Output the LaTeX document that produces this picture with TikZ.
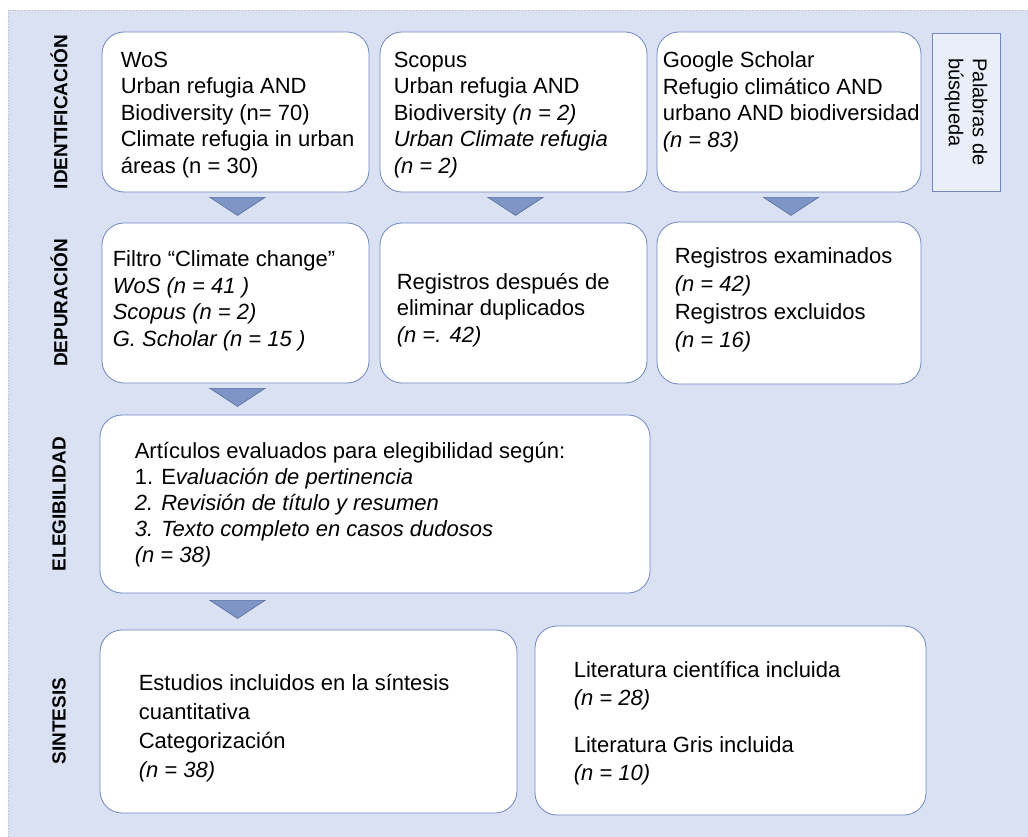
\documentclass[tikz,border=0pt]{standalone}
\usepackage{fontspec}
\setmainfont{Liberation Sans}
\usetikzlibrary{calc}

\definecolor{panelbg}{RGB}{217,225,242}
\definecolor{boxline}{RGB}{112,136,190}
\definecolor{trifill}{RGB}{127,149,197}
\definecolor{triline}{RGB}{84,108,160}
\definecolor{kwfill}{RGB}{233,238,248}
\definecolor{frameline}{RGB}{185,185,185}

\begin{document}
\begin{tikzpicture}[
    x=1pt, y=-1pt,
    stage/.style={draw=boxline, line width=0.8pt, fill=white, rounded corners=22pt, inner sep=0pt},
    txt/.style={align=left, inner sep=0pt, anchor=west, font=\fontsize{22}{26.5}\selectfont},
    phase/.style={rotate=90, inner sep=0pt, font=\fontsize{19}{21}\selectfont\bfseries},
    kwbox/.style={draw=boxline, line width=0.8pt, fill=kwfill, inner sep=0pt},
    kwtxt/.style={rotate=-90, align=left, inner sep=0pt, font=\fontsize{20}{24}\selectfont},
    tri/.style={draw=triline, line width=0.6pt, fill=trifill}
]

    % ================= BACKGROUND =================
    \useasboundingbox (0,0) rectangle (1028,837);
    \fill[panelbg] (8,10) rectangle (1028,837);
    \draw[frameline, dotted, line width=0.8pt] (8,837) -- (8,10) -- (1028,10);

    % ================= PHASE LABELS =================
    \node[phase] (L_ID) at (59,112) {IDENTIFICACIÓN};
    \node[phase] (L_DEP) at (59,303) {DEPURACIÓN};
    \node[phase] (L_ELEG) at (59,504) {ELEGIBILIDAD};
    \node[phase] (L_SINT) at (59,721) {SINTESIS};

    % ================= BOXES =================
    \node[stage, minimum width=267pt, minimum height=160pt] (WOS) at (235.5,112) {};
    \node[stage, minimum width=267pt, minimum height=160pt] (SCOPUS) at (513.5,112) {};
    \node[stage, minimum width=264pt, minimum height=160pt] (GSCHOLAR) at (789,112) {};
    \node[kwbox, minimum width=68pt, minimum height=158pt] (PALABRAS) at (966,112) {};

    \node[stage, minimum width=267pt, minimum height=160pt] (FILTRO) at (235.5,303) {};
    \node[stage, minimum width=267pt, minimum height=160pt] (DUPLIC) at (513.5,303) {};
    \node[stage, minimum width=264pt, minimum height=162pt] (EXAMIN) at (789,303) {};

    \node[stage, minimum width=550pt, minimum height=178pt] (ARTIC) at (375,504) {};

    \node[stage, minimum width=417pt, minimum height=183pt] (ESTUD) at (308.5,721.5) {};
    \node[stage, minimum width=391pt, minimum height=189pt] (LITER) at (730.5,720.5) {};

    % ================= TEXTS =================
    \node[txt] (WOS_T) at ($(WOS.west)+(19,3)$)
        {WoS\\Urban refugia AND\\Biodiversity (n= 70)\\Climate refugia in urban\\áreas (n = 30)};
    \node[txt] (SCOPUS_T) at ($(SCOPUS.west)+(14,3)$)
        {Scopus\\Urban refugia AND\\Biodiversity \textit{(n = 2)}\\\textit{Urban Climate refugia}\\\textit{(n = 2)}};
    \node[txt] (GSCHOLAR_T) at ($(GSCHOLAR.west)+(6,-10)$)
        {Google Scholar\\Refugio climático AND\\urbano AND biodiversidad\\\textit{(n = 83)}};
    \node[kwtxt] (PALABRAS_T) at (PALABRAS.center) {Palabras de\\búsqueda};

    \node[txt] (FILTRO_T) at ($(FILTRO.west)+(11,-2)$)
        {Filtro “Climate change”\\\textit{WoS (n = 41 )}\\\textit{Scopus (n = 2)}\\\textit{G. Scholar (n = 15 )}};
    \node[txt] (DUPLIC_T) at ($(DUPLIC.west)+(17,7)$)
        {Registros después de\\eliminar duplicados\\\textit{(n =. 42)}};
    \node[txt, font=\fontsize{22}{28}\selectfont] (EXAMIN_T) at ($(EXAMIN.west)+(18,-3)$)
        {Registros examinados\\\textit{(n = 42)}\\Registros excluidos\\\textit{(n = 16)}};

    \node[txt, font=\fontsize{22}{26}\selectfont] (ARTIC_T) at ($(ARTIC.west)+(35,1)$)
        {Artículos evaluados para elegibilidad según:\\1. E\textit{valuación de pertinencia}\\\textit{2. Revisión de título y resumen}\\\textit{3. Texto completo en casos dudosos}\\\textit{(n = 38)}};

    \node[txt, font=\fontsize{22}{29}\selectfont] (ESTUD_T) at ($(ESTUD.west)+(39,7)$)
        {Estudios incluidos en la síntesis\\cuantitativa\\Categorización\\\textit{(n = 38)}};
    \node[txt, font=\fontsize{22}{28}\selectfont] (LITER_T) at ($(LITER.west)+(39,3)$)
        {Literatura científica incluida\\\textit{(n = 28)}\\[19pt]Literatura Gris incluida\\\textit{(n = 10)}};

    % ================= DOWN ARROWS =================
    \foreach \src in {WOS, SCOPUS, GSCHOLAR, FILTRO}
        \coordinate (\src_A) at ($(\src.south)+(2,5)$);
    \coordinate (ARTIC_A) at ($(FILTRO.south |- ARTIC.south)+(2,7)$);

    \foreach \src in {WOS, SCOPUS, GSCHOLAR, FILTRO, ARTIC}
        \draw[tri] (\src_A) ++(-27.5,0) -- ++(55,0) -- ++(-27.5,18) -- cycle;

\end{tikzpicture}
\end{document}
